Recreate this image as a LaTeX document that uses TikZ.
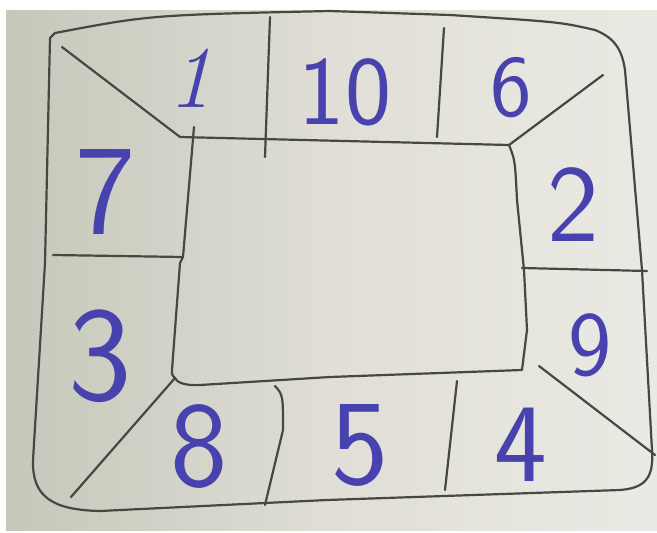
\documentclass[tikz,border=0pt]{standalone}
\usepackage{fontspec}
\definecolor{ink}{RGB}{72,66,175}
\definecolor{pencil}{RGB}{70,72,66}
\definecolor{paperL}{RGB}{196,200,186}
\definecolor{paperM}{RGB}{224,222,214}
\definecolor{paperR}{RGB}{234,234,228}
\tikzset{
  pen/.style={draw=pencil, line width=2.2pt, line cap=round, line join=round},
  num/.style={text=ink, font=\sffamily\fontsize{#1}{#1}\selectfont, inner sep=0pt},
}
\begin{document}
\begin{tikzpicture}[x=1pt,y=-1pt]
\useasboundingbox (0,0) rectangle (657,533);
\fill[white] (0,0) rectangle (657,533);
\shade[left color=paperL, right color=paperR, middle color=paperM, shading angle=90] (6,10) rectangle (657,530);
% outer frame
\draw[pen] (50,38) -- (55,33) .. controls (150,15) .. (330,11) -- (450,15)
  .. controls (560,22) .. (595,30) .. controls (615,38) and (622,50) .. (625,70)
  -- (642,270) -- (652,450) .. controls (654,478) and (645,488) .. (620,490)
  -- (327,500) -- (100,511) .. controls (50,510) and (32,495) .. (33,460)
  -- (45,263) -- cycle;
% inner rectangle corners
\coordinate (tl) at (180,137);
\coordinate (tr) at (509,145);
\coordinate (br) at (522,370);
\coordinate (bl) at (175,378);
\draw[pen] (tl) -- (tr) .. controls (515,160) .. (517,200) -- (524,270) -- (527,330) -- (br) -- (330,377) -- (200,385) .. controls (185,386) and (176,382) .. (bl);
\draw[pen] (194,127) -- (183,257) -- (180,263) -- (172,370) .. controls (172,375) .. (bl);
% diagonals
\coordinate (otl) at (62,47);
\coordinate (otr) at (603,75);
\coordinate (obl) at (71,497);
\coordinate (obr) at (655,455);
\coordinate (ibr) at (539,366);
\draw[pen] (otl) -- (tl);
\draw[pen] (tr) -- (otr);
\draw[pen] (bl) -- (obl);
\draw[pen] (ibr) -- (obr);
% dividers
\draw[pen] (270,17) -- (265,157);
\draw[pen] (444,28) -- (437,137);
\draw[pen] (53,255) -- (183,257);
\draw[pen] (522,268) -- (647,271);
\draw[pen] (275,386) .. controls (283,395) .. (283,430) -- (265,505);
\draw[pen] (457,381) -- (445,490);
% numbers
\node[num=88] (n1) at (190,78) {\rmfamily\itshape 1};
\node[num=98] (n10) at (345,92) {10};
\node[num=88] (n6) at (511,88) {6};
\node[num=128] (n7) at (106,192) {7};
\node[num=110] (n2) at (573,205) {2};
\node[num=135] (n3) at (100,356) {3};
\node[num=92] (n9) at (590,345) {9};
\node[num=122] (n8) at (199,446) {8};
\node[num=122] (n5) at (360,445) {5};
\node[num=112] (n4) at (521,445) {4};
\end{tikzpicture}
\end{document}
